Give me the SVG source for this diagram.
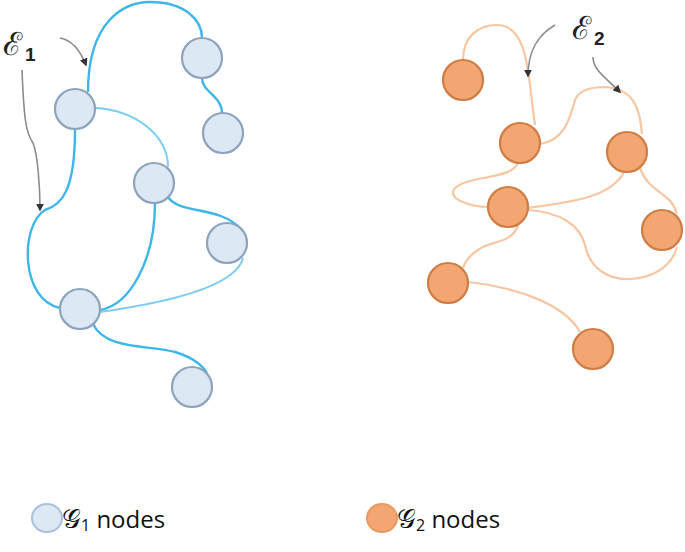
<svg xmlns="http://www.w3.org/2000/svg" width="685" height="552" viewBox="0 0 685 552">
<style>
.be{fill:none;stroke:#3db6ea;stroke-width:2.4}
.bl{fill:none;stroke:#7ccdf1;stroke-width:2}
.oe{fill:none;stroke:#f7c6a3;stroke-width:2.2}
.ar{fill:none;stroke:#8c8c8c;stroke-width:1.6}
.bn{fill:#dde8f5;stroke:#8ea3bc;stroke-width:2.2}
.on{fill:#f2a773;stroke:#cf7d44;stroke-width:2.2}
.lbl{font-family:"DejaVu Serif","Liberation Serif",serif;font-size:32px;fill:#222}
.sub{font-family:"Liberation Sans",sans-serif;font-size:19px;font-weight:bold;fill:#222}
.leg{font-family:"Open Sans","Liberation Sans",sans-serif;font-size:24px;fill:#111}
</style>
<defs>
<marker id="ah" viewBox="0 0 10 10" refX="8" refY="5" markerWidth="5" markerHeight="5" orient="auto">
<path d="M0,0 L10,5 L0,10 z" fill="#333"/>
</marker>
</defs>
<g id="connectors">
<path class="be" d="M88,92 C88,20 125,2 150,2 C185,2 202,20 202,38"/>
<path class="be" d="M202,78 C202,92 222,96 222,113"/>
<path class="bl" d="M95,108 C135,110 168,135 168,167"/>
<path class="be" d="M75,130 C75,190 62,205 45,210 C20,225 20,300 60,308"/>
<path class="be" d="M155,203 C155,260 130,305 100,310"/>
<path class="be" d="M168,197 C180,215 220,205 242,230"/>
<path class="bl" d="M243,258 C235,290 150,305 100,312"/>
<path class="be" d="M93,324 C105,350 150,345 175,352 C195,358 205,368 207,374"/>
<path class="ar" d="M22,70 C24,120 26,133 33,143 C38,155 40,190 40,210" marker-end="url(#ah)"/>
<path class="ar" d="M60,38 C72,40 80,50 86,65" marker-end="url(#ah)"/>
<path class="oe" d="M463,60 C463,35 480,25 497,25 C530,25 528,80 535,125"/>
<path class="oe" d="M540,144 C565,140 570,118 575,100 C580,88 595,87 607,87 C635,90 640,110 642,134"/>
<path class="oe" d="M518,163 C510,180 470,175 455,188 C445,200 475,207 488,207"/>
<path class="oe" d="M624,172 C610,200 560,203 528,208"/>
<path class="oe" d="M640,168 C650,195 670,190 677,214"/>
<path class="oe" d="M528,210 C560,212 580,225 585,245 C590,270 610,280 630,279 C655,278 672,265 677,247"/>
<path class="oe" d="M518,226 C510,245 490,240 478,250 C470,255 465,262 463,268"/>
<path class="oe" d="M468,282 C520,288 565,305 580,332"/>
<path class="ar" d="M555,25 C538,35 528,50 528,76" marker-end="url(#ah)"/>
<path class="ar" d="M593,57 C593,70 605,77 620,92" marker-end="url(#ah)"/>
</g>
<g id="label-e1"><text class="lbl" x="3" y="55">ℰ</text><text class="sub" x="25" y="61">1</text></g>
<g id="label-e2"><text class="lbl" x="572" y="39">ℰ</text><text class="sub" x="594" y="45">2</text></g>
<g id="b1"><circle class="bn" cx="75" cy="109" r="20"/></g>
<g id="b2"><circle class="bn" cx="202" cy="58" r="20"/></g>
<g id="b3"><circle class="bn" cx="223" cy="133" r="20"/></g>
<g id="b4"><circle class="bn" cx="154" cy="183" r="20"/></g>
<g id="b5"><circle class="bn" cx="227" cy="243" r="20"/></g>
<g id="b6"><circle class="bn" cx="80" cy="309" r="20"/></g>
<g id="b7"><circle class="bn" cx="192" cy="387" r="20"/></g>
<g id="o1"><circle class="on" cx="463" cy="80" r="20"/></g>
<g id="o2"><circle class="on" cx="520" cy="143" r="20"/></g>
<g id="o3"><circle class="on" cx="627" cy="152" r="20"/></g>
<g id="o4"><circle class="on" cx="508" cy="207" r="20"/></g>
<g id="o5"><circle class="on" cx="662" cy="230" r="20"/></g>
<g id="o6"><circle class="on" cx="448" cy="283" r="20"/></g>
<g id="o7"><circle class="on" cx="593" cy="349" r="20"/></g>
<g id="legend-g1">
<ellipse cx="47" cy="518" rx="15" ry="14" fill="#dde8f5" stroke="#a9c1da" stroke-width="2"/>
<text class="leg" x="62" y="528"><tspan font-family="DejaVu Serif, serif" font-size="26">𝒢</tspan><tspan font-size="16" dy="3">1</tspan><tspan dy="-3"> nodes</tspan></text>
</g>
<g id="legend-g2">
<ellipse cx="382" cy="518" rx="15" ry="14" fill="#f2a773" stroke="#e99a62" stroke-width="2"/>
<text class="leg" x="397" y="528"><tspan font-family="DejaVu Serif, serif" font-size="26">𝒢</tspan><tspan font-size="16" dy="3">2</tspan><tspan dy="-3"> nodes</tspan></text>
</g>
</svg>
